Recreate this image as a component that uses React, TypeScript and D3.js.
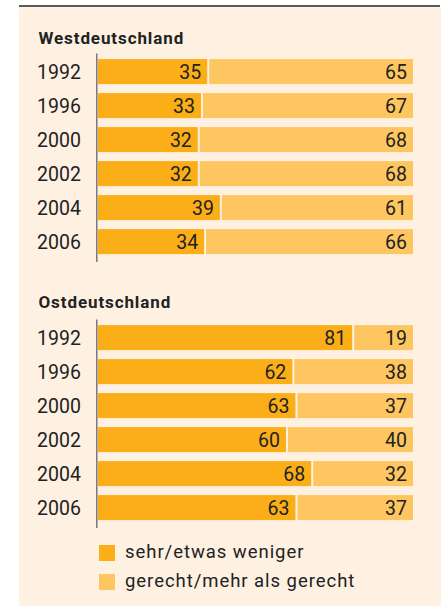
import React from "react";
import * as d3 from "d3";

const years = ["1992", "1996", "2000", "2002", "2004", "2006"];
const westWeniger = [35, 33, 32, 32, 39, 34];
const westGerecht = [65, 67, 68, 68, 61, 66];
const ostWeniger = [81, 62, 63, 60, 68, 63];
const ostGerecht = [19, 38, 37, 40, 32, 37];
const legendLabels = ["sehr/etwas weniger", "gerecht/mehr als gerecht"];
const panelTitles = ["Westdeutschland", "Ostdeutschland"];

const W = 441;
const H = 606;
const DARK = "#FBAE18";
const LIGHT = "#FEC660";
const BG = "#FEF1E2";
const TEXT = "#222";
const FONT = "Roboto, 'Noto Sans', sans-serif";

const x = d3.scaleLinear().domain([0, 100]).range([98, 413]);

function Panel({ title, titleY, top, weniger, gerecht }: { title: string; titleY: number; top: number; weniger: number[]; gerecht: number[] }) {
  const step = 34;
  const pi = 9 / 34;
  const po = 0.15;
  const y = d3
    .scaleBand<string>()
    .domain(years)
    .range([top, top + step * (years.length - pi + 2 * po)])
    .paddingInner(pi)
    .paddingOuter(po);
  const bw = y.bandwidth();
  const axisTop = top - 0.5;
  const axisBottom = (y(years[years.length - 1]) as number) + bw + 8;
  return (
    <g>
      <text x={38.5} y={titleY} fontFamily={FONT} fontWeight={700} fontSize={17} fill={TEXT} letterSpacing={0.9}>
        {title}
      </text>
      {years.map((yr, i) => {
        const yy = y(yr) as number;
        const cy = yy + bw / 2;
        const xv = x(weniger[i]);
        return (
          <g key={yr}>
            <text x={37} y={cy} dy="0.36em" fontFamily={FONT} fontSize={19.5} fill={TEXT}>
              {yr}
            </text>
            <rect x={x(0)} y={yy} width={xv - 1 - x(0)} height={bw} fill={DARK} />
            <rect x={xv + 1} y={yy} width={x(100) - xv - 1} height={bw} fill={LIGHT} />
            <text x={xv - 7} y={cy} dy="0.36em" textAnchor="end" fontFamily={FONT} fontSize={19.5} fill={TEXT}>
              {weniger[i]}
            </text>
            <text x={x(100) - 6} y={cy} dy="0.36em" textAnchor="end" fontFamily={FONT} fontSize={19.5} fill={TEXT}>
              {gerecht[i]}
            </text>
          </g>
        );
      })}
      <line x1={96.8} x2={96.8} y1={axisTop} y2={axisBottom} stroke="#777" strokeWidth={1.5} />
    </g>
  );
}

export default function App() {
  return (
    <svg width={W} height={H} style={{ position: "absolute", left: 0, top: 0 }}>
      <rect x={19} y={7} width={W - 19} height={H - 7} fill={BG} />
      <line x1={19} x2={440} y1={6} y2={6} stroke="#222" strokeWidth={1.5} />
      <Panel title={panelTitles[0]} titleY={43.5} top={54} weniger={westWeniger} gerecht={westGerecht} />
      <Panel title={panelTitles[1]} titleY={307.5} top={320} weniger={ostWeniger} gerecht={ostGerecht} />
      {legendLabels.map((lab, i) => (
        <g key={lab}>
          <rect x={99} y={545 + i * 29} width={16} height={16} fill={i === 0 ? DARK : LIGHT} />
          <text x={125} y={558 + i * 29} fontFamily={FONT} fontSize={18.5} fill={TEXT} letterSpacing={0.95}>
            {lab}
          </text>
        </g>
      ))}
    </svg>
  );
}
